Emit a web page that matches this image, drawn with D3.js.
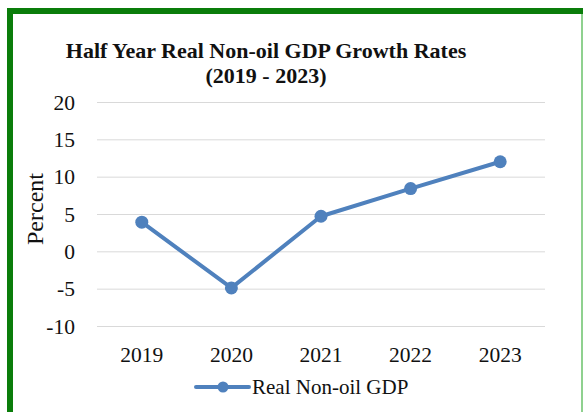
<!DOCTYPE html>
<html>
<head>
<meta charset="utf-8">
<script src="https://cdn.jsdelivr.net/npm/d3@7"></script>
<style>
  html, body { margin: 0; padding: 0; background: #fff; }
  svg { display: block; }
</style>
</head>
<body>
<script>
// Half-year real non-oil GDP growth, percent
const years = ["2019", "2020", "2021", "2022", "2023"];
const growth = [3.9, -4.9, 4.7, 8.4, 12.0];
const yTicks = [-10, -5, 0, 5, 10, 15, 20];
const titleLines = ["Half Year Real Non-oil GDP Growth Rates", "(2019 - 2023)"];
const seriesName = "Real Non-oil GDP";
const axisTitle = "Percent";

const W = 583, H = 412;
const serif = "'Liberation Serif', 'Times New Roman', serif";
const blue = "#4f81bd";

const svg = d3.select("body").append("svg")
  .attr("width", W).attr("height", H);

svg.append("rect").attr("width", W).attr("height", H).attr("fill", "#fff");

// frame: heavy green on top and left, light edge on the right
svg.append("rect").attr("x", 7).attr("y", 8).attr("width", W - 7).attr("height", 6).attr("fill", "#0a7d0a");
svg.append("rect").attr("x", 7).attr("y", 8).attr("width", 6).attr("height", H - 8).attr("fill", "#0a7d0a");
svg.append("rect").attr("x", 581).attr("y", 14).attr("width", 2).attr("height", H - 14).attr("fill", "#8fd18f");

// title
const title = svg.append("text")
  .attr("text-anchor", "middle")
  .attr("font-family", serif)
  .attr("font-weight", "bold")
  .attr("font-size", 22)
  .attr("fill", "#111");
titleLines.forEach((t, i) => {
  title.append("tspan").attr("x", 266).attr("y", 58 + i * 25).text(t);
});

const x = d3.scaleBand().domain(years).range([97, 545]);
const y = d3.scaleLinear().domain([-10, 20]).range([326, 102]);

// gridlines
svg.append("g")
  .attr("transform", "translate(97,0)")
  .call(d3.axisLeft(y).tickValues(yTicks).tickSize(-(545 - 97)).tickFormat(""))
  .call(g => g.select(".domain").remove())
  .call(g => g.selectAll("line").attr("stroke", "#d9d9d9").attr("stroke-width", 1));

// y tick labels (plain hyphen for negatives)
svg.append("g")
  .attr("transform", "translate(75,0)")
  .call(d3.axisLeft(y).tickValues(yTicks).tickSize(0).tickPadding(0).tickFormat(d => String(d)))
  .call(g => g.select(".domain").remove())
  .call(g => g.selectAll("text")
    .attr("font-family", serif).attr("font-size", 21.5).attr("fill", "#111").attr("dy", "0.33em"));

// x tick labels
svg.append("g")
  .attr("transform", "translate(0,326)")
  .call(d3.axisBottom(x).tickSize(0).tickPadding(0))
  .call(g => g.select(".domain").remove())
  .call(g => g.selectAll("text")
    .attr("font-family", serif).attr("font-size", 21.5).attr("fill", "#111")
    .attr("dy", 0).attr("y", 36));

// y axis title
svg.append("text")
  .attr("transform", "translate(43,209) rotate(-90)")
  .attr("text-anchor", "middle")
  .attr("font-family", serif)
  .attr("font-size", 24)
  .attr("fill", "#111")
  .text(axisTitle);

// series
const pts = years.map((yr, i) => ({ yr, v: growth[i] }));
const line = d3.line()
  .x(d => x(d.yr) + x.bandwidth() / 2)
  .y(d => y(d.v));

svg.append("path")
  .datum(pts)
  .attr("d", line)
  .attr("fill", "none")
  .attr("stroke", blue)
  .attr("stroke-width", 4)
  .attr("stroke-linejoin", "round")
  .attr("stroke-linecap", "round");

svg.append("g").selectAll("circle")
  .data(pts)
  .join("circle")
  .attr("cx", d => x(d.yr) + x.bandwidth() / 2)
  .attr("cy", d => y(d.v))
  .attr("r", 6.5)
  .attr("fill", blue);

// legend
const lg = svg.append("g").attr("transform", "translate(0,387)");
lg.append("line")
  .attr("x1", 196).attr("x2", 249).attr("y1", 0).attr("y2", 0)
  .attr("stroke", blue).attr("stroke-width", 4).attr("stroke-linecap", "round");
lg.append("circle").attr("cx", 223).attr("cy", 0).attr("r", 5.5).attr("fill", blue);
lg.append("text")
  .attr("x", 252).attr("y", 0).attr("dy", "0.33em")
  .attr("font-family", serif).attr("font-size", 21).attr("fill", "#111")
  .text(seriesName);
</script>
</body>
</html>
